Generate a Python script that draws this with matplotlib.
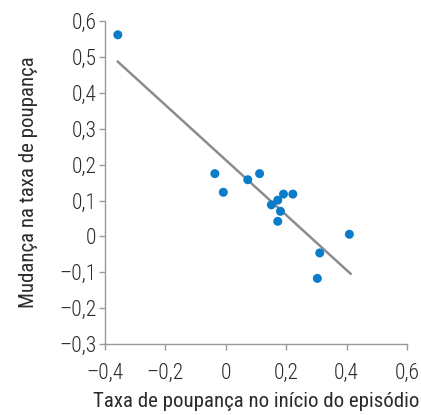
import matplotlib
matplotlib.use("Agg")
import matplotlib.pyplot as plt
from matplotlib import font_manager
from matplotlib.ticker import FuncFormatter

# Savings-rate episodes: initial rate vs. change in rate
initial_rate = [-0.357, -0.036, -0.008, 0.073, 0.112, 0.151, 0.172,
                0.181, 0.172, 0.191, 0.222, 0.311, 0.303, 0.409]
rate_change = [0.562, 0.175, 0.123, 0.158, 0.175, 0.088, 0.101,
               0.070, 0.042, 0.118, 0.118, -0.046, -0.117, 0.006]

# Fitted trend line endpoints
fit_x = [-0.357, 0.413]
fit_y = [0.487, -0.104]

x_ticks = [-0.4, -0.2, 0, 0.2, 0.4, 0.6]
y_ticks = [-0.3, -0.2, -0.1, 0, 0.1, 0.2, 0.3, 0.4, 0.5, 0.6]

# Prefer a narrow sans face, falling back to a regular one
names = {f.name for f in font_manager.fontManager.ttflist}
family = "Liberation Sans"
for cand in ("Liberation Sans Narrow", "Arial Narrow", "Roboto Condensed", "Archivo Narrow"):
    if cand in names:
        family = cand
        break
plt.rcParams["font.family"] = [family, "DejaVu Sans"]
plt.rcParams["font.weight"] = "light"

axis_gray = "#9a9a9a"
text_color = "#2b2b2b"

fig = plt.figure(figsize=(4.21, 4.15), dpi=100)
ax = fig.add_axes([0.249, 0.171, 0.718, 0.778])

ax.plot(fit_x, fit_y, color="#8c8c8c", lw=1.8, zorder=2)
ax.scatter(initial_rate, rate_change, s=42, color="#0a7cc9", edgecolor="none", zorder=3)

ax.set_xlim(-0.4, 0.6)
ax.set_ylim(-0.3, 0.6)
ax.set_xticks(x_ticks)
ax.set_yticks(y_ticks)


def fmt(v, pos):
    if abs(v) < 1e-9:
        return "0"
    s = f"{abs(v):.1f}".replace(".", ",")
    return ("\u2013" + s) if v < 0 else s


ax.xaxis.set_major_formatter(FuncFormatter(fmt))
ax.yaxis.set_major_formatter(FuncFormatter(fmt))

for side in ("top", "right"):
    ax.spines[side].set_visible(False)
for side in ("left", "bottom"):
    ax.spines[side].set_color(axis_gray)
    ax.spines[side].set_linewidth(1.0)

ax.tick_params(axis="both", direction="out", length=4.5, width=1.0, color=axis_gray,
               labelsize=15.5, labelcolor=text_color)
ax.tick_params(axis="x", pad=9)
ax.tick_params(axis="y", pad=1.5)

ax.set_xlabel("Taxa de poupança no início do episódio", fontsize=15, color=text_color, labelpad=6)
ax.set_ylabel("Mudança na taxa de poupança", fontsize=15, color=text_color, labelpad=15)

fig.savefig("out.png", dpi=100, facecolor="white")
